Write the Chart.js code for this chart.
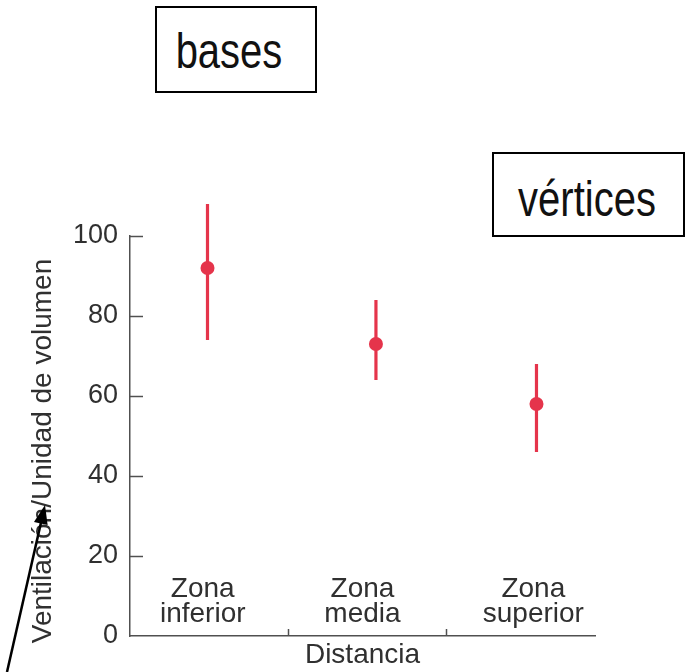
<!DOCTYPE html>
<html>
<head>
<meta charset="utf-8">
<script src="https://cdn.jsdelivr.net/npm/chart.js@4.4.1/dist/chart.umd.min.js"></script>
<style>
  html, body { margin: 0; padding: 0; background: #ffffff; }
  #wrap { position: relative; width: 687px; height: 672px; overflow: hidden; }
  canvas { position: absolute; left: 0; top: 0; }
  .box { position: absolute; border: 2px solid #000; box-sizing: border-box; background: #fff;
         font-family: "Liberation Sans", Arial, sans-serif; font-size: 50px; color: #111; }
  .box span { position: absolute; left: 50%; transform: translateX(-50%) scaleX(0.8); white-space: nowrap; line-height: 1; }
</style>
</head>
<body>
<div id="wrap">
  <canvas id="c" width="687" height="672"></canvas>
  <div class="box" style="left:155px; top:6px; width:162px; height:87px;"><span style="top:18px; margin-left:-7px;">bases</span></div>
  <div class="box" style="left:492px; top:152px; width:193px; height:85px;"><span style="top:20px; margin-left:-2px;">vértices</span></div>
</div>
<script>
// ---- data ----
const categories = [["Zona", "inferior"], ["Zona", "media"], ["Zona", "superior"]];
const categoryPos = [0.46, 1.47, 2.55];      // where each zone label sits on the distance axis
const xValues = [0.49, 1.555, 2.57];          // distance position of each measurement
const means = [92, 73, 58];
const upper = [108, 84, 68];
const lower = [74, 64, 46];
const yTicks = [0, 20, 40, 60, 80, 100];
const zoneBoundaries = [1, 2];
const yTitle = "Ventilación/Unidad de volumen";
const xTitle = "Distancia";

const RED = "#e5344b";
const INK = "#303030";
const AXIS = "#505050";
const FONT = "'Liberation Sans', Arial, sans-serif";

const points = xValues.map((x, i) => ({ x: x, y: means[i] }));

const decor = {
  id: "decor",
  beforeDatasetsDraw(chart) {
    const ctx = chart.ctx, xs = chart.scales.x, ys = chart.scales.y;
    ctx.save();
    ctx.strokeStyle = RED;
    ctx.lineWidth = 3.2;
    xValues.forEach((x, i) => {
      const px = xs.getPixelForValue(x);
      ctx.beginPath();
      ctx.moveTo(px, ys.getPixelForValue(upper[i]));
      ctx.lineTo(px, ys.getPixelForValue(lower[i]));
      ctx.stroke();
    });
    ctx.restore();
  },
  afterDraw(chart) {
    const ctx = chart.ctx, xs = chart.scales.x, ys = chart.scales.y;
    const area = chart.chartArea;
    ctx.save();
    // inward tick marks on y axis
    ctx.strokeStyle = AXIS;
    ctx.lineWidth = 1.5;
    yTicks.forEach(v => {
      if (v === 0) return;
      const py = Math.round(ys.getPixelForValue(v)) + 0.5;
      ctx.beginPath();
      ctx.moveTo(area.left, py);
      ctx.lineTo(area.left + 13, py);
      ctx.stroke();
    });
    // zone boundary ticks on x axis
    zoneBoundaries.forEach(v => {
      const px = Math.round(xs.getPixelForValue(v)) + 0.5;
      ctx.beginPath();
      ctx.moveTo(px, area.bottom);
      ctx.lineTo(px, area.bottom - 7);
      ctx.stroke();
    });
    // zone labels inside the plot
    ctx.fillStyle = INK;
    ctx.font = "28px " + FONT;
    ctx.textAlign = "center";
    ctx.textBaseline = "alphabetic";
    categories.forEach((lines, i) => {
      const px = xs.getPixelForValue(categoryPos[i]);
      lines.forEach((t, j) => ctx.fillText(t, px, area.bottom - 39 + j * 25));
    });
    // y title
    ctx.save();
    ctx.font = "28px " + FONT;
    ctx.translate(43, (area.top + area.bottom) / 2 + 15);
    ctx.rotate(-Math.PI / 2);
    ctx.textBaseline = "middle";
    ctx.fillText(yTitle, 0, 0);
    ctx.restore();
    // arrow pointing at the y title
    const x0 = 7, y0 = 672, x1 = 45, y1 = 505;
    const ang = Math.atan2(y1 - y0, x1 - x0);
    ctx.strokeStyle = "#000";
    ctx.fillStyle = "#000";
    ctx.lineWidth = 2.5;
    ctx.beginPath();
    ctx.moveTo(x0, y0);
    ctx.lineTo(x1 - 14 * Math.cos(ang), y1 - 14 * Math.sin(ang));
    ctx.stroke();
    ctx.beginPath();
    ctx.moveTo(x1, y1);
    ctx.lineTo(x1 - 19 * Math.cos(ang) + 7 * Math.sin(ang), y1 - 19 * Math.sin(ang) - 7 * Math.cos(ang));
    ctx.lineTo(x1 - 19 * Math.cos(ang) - 7 * Math.sin(ang), y1 - 19 * Math.sin(ang) + 7 * Math.cos(ang));
    ctx.closePath();
    ctx.fill();
    ctx.restore();
  }
};

new Chart(document.getElementById("c"), {
  type: "scatter",
  data: {
    datasets: [{
      data: points,
      backgroundColor: RED,
      borderColor: RED,
      pointRadius: 7,
      pointHoverRadius: 7,
      borderWidth: 0
    }]
  },
  options: {
    responsive: false,
    animation: false,
    events: [],
    layout: { padding: { left: 0, right: 92, top: 236, bottom: 0 } },
    plugins: { legend: { display: false }, tooltip: { enabled: false } },
    scales: {
      x: {
        type: "linear",
        min: 0,
        max: 2.94,
        grid: { display: false, drawTicks: false },
        border: { display: true, color: AXIS, width: 1.5 },
        ticks: { display: false },
        title: { display: true, text: xTitle, color: INK, font: { family: FONT, size: 28 }, padding: 0 },
        afterFit(scale) { scale.height = 36; }
      },
      y: {
        min: 0,
        max: 100,
        afterBuildTicks(scale) { scale.ticks = yTicks.map(v => ({ value: v })); },
        grid: { display: false, drawTicks: false },
        border: { display: true, color: AXIS, width: 1.5 },
        ticks: { color: INK, font: { family: FONT, size: 27 }, padding: 12 },
        afterFit(scale) { scale.width = 130; }
      }
    }
  },
  plugins: [decor]
});
</script>
</body>
</html>
